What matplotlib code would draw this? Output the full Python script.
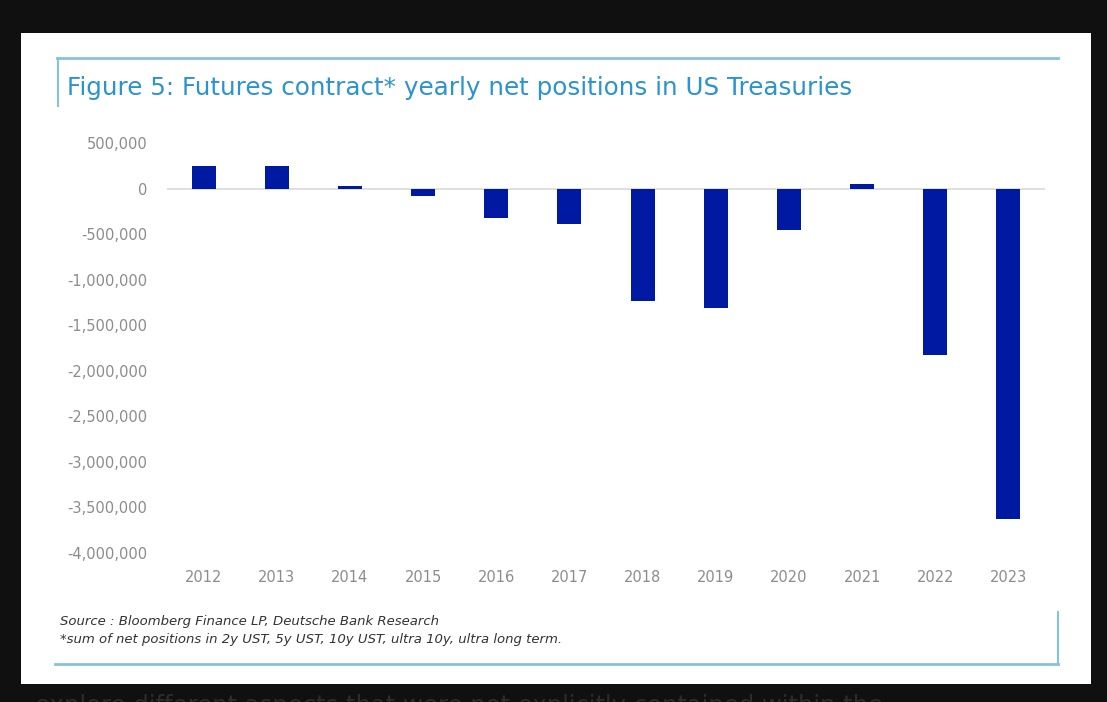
import numpy as np
import matplotlib.pyplot as plt
from matplotlib.patches import Rectangle
from matplotlib.lines import Line2D
from matplotlib.ticker import FuncFormatter, MultipleLocator

# Datos: posiciones netas anuales en futuros sobre Treasuries
years = ['2012', '2013', '2014', '2015', '2016', '2017',
         '2018', '2019', '2020', '2021', '2022', '2023']
net_positions = [245000, 250000, 25000, -85000, -320000, -390000,
                 -1230000, -1310000, -450000, 55000, -1830000, -3630000]

title = 'Figure 5: Futures contract* yearly net positions in US Treasuries'
source = 'Source : Bloomberg Finance LP, Deutsche Bank Research'
note = '*sum of net positions in 2y UST, 5y UST, 10y UST, ultra 10y, ultra long term.'
body_text = 'explore different aspects that were not explicitly contained within the'

W, H = 1107, 702
fig = plt.figure(figsize=(W / 100, H / 100), dpi=100)
fig.patch.set_facecolor('#101010')


def fx(px):
    return px / W


def fy(py):
    return 1 - py / H


# Panel blanco (detrás de los ejes)
fig.patches.append(Rectangle((fx(21), fy(684)), fx(1091) - fx(21), fy(33) - fy(684),
                             transform=fig.transFigure, facecolor='white',
                             edgecolor='none', zorder=-5))

# Marco azul claro del recuadro
frame = '#86c3da'
fig.add_artist(Line2D([fx(57), fx(1058)], [fy(58), fy(58)], color=frame, lw=2))
fig.add_artist(Line2D([fx(58), fx(58)], [fy(58), fy(106)], color=frame, lw=1.5))
fig.add_artist(Line2D([fx(55), fx(1058)], [fy(664), fy(664)], color=frame, lw=2))
fig.add_artist(Line2D([fx(1058), fx(1058)], [fy(612), fy(664)], color=frame, lw=1.5))

fig.text(fx(67), fy(88), title, color='#2b93cf', fontsize=17.7,
         va='center', ha='left')

fig.text(fx(60), fy(622), source, color='#333333', fontsize=9.5,
         style='italic', va='center', ha='left')
fig.text(fx(60), fy(640), note, color='#333333', fontsize=9.5,
         style='italic', va='center', ha='left')

# Texto de la página que queda cortado abajo
fig.text(fx(35), fy(713), body_text, color='#2c2c2c', fontsize=17.5,
         va='baseline', ha='left')

ax = fig.add_axes([fx(167), fy(553), fx(1045) - fx(167), fy(143) - fy(553)])
ax.set_facecolor('none')

x = np.arange(len(years))
ax.bar(x, net_positions, width=0.33, color='#0019a3', zorder=3)
ax.axhline(0, color='#d9d9d9', lw=1.2, zorder=2)

ax.set_xlim(-0.5, len(years) - 0.5)
ax.set_ylim(-4000000, 500000)
ax.yaxis.set_major_locator(MultipleLocator(500000))
ax.yaxis.set_major_formatter(FuncFormatter(lambda v, p: f'{int(v):,}'))
ax.set_xticks(x)
ax.set_xticklabels(years)

for s in ax.spines.values():
    s.set_visible(False)
ax.tick_params(length=0, colors='#8c8c8c', labelsize=10.5)
ax.tick_params(axis='y', pad=14)
ax.tick_params(axis='x', pad=12)

fig.savefig('out.png', dpi=100, facecolor=fig.get_facecolor())
